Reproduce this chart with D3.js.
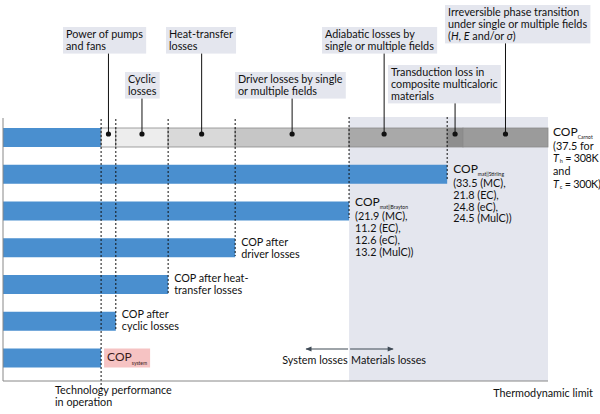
<!DOCTYPE html>
<html>
<head>
<meta charset="utf-8">
<script src="https://cdn.jsdelivr.net/npm/d3@7"></script>
<style>
  body { margin: 0; background: #fff; }
  text { font-family: Lato, "Open Sans", sans-serif; font-size: 10.8px; fill: #111; }
</style>
</head>
<body>
<div class="chart"></div>
<script>
// stages, top (Carnot) to bottom (system); length as % of COP Carnot (schematic)
var stageNames = ["carnot", "stirling", "brayton", "driver", "heat", "cyclic", "system"];
var stageValues = [100, 81.5, 63.5, 42.6, 30.3, 20.7, 18.0];

// loss segments on the top bar (from, to in % of Carnot)
var lossNames = ["pumps", "cyclic", "heat", "driver", "adiabatic", "transduction", "irreversible"];
var lossFrom = [18.0, 20.7, 30.3, 42.6, 63.5, 81.5, 84.4];
var lossTo = [20.7, 30.3, 42.6, 63.5, 81.5, 84.4, 100];
var lossFill = ["#f7f7f7", "#ededed", "#d9d9d9", "#c6c6c6", "#a9a9a9", "#8e8e8e", "#9b9b9b"];

var lossLabels = [
  ["Power of pumps", "and fans"],
  ["Cyclic", "losses"],
  ["Heat-transfer", "losses"],
  ["Driver losses by single", "or multiple fields"],
  ["Adiabatic losses by", "single or multiple fields"],
  ["Transduction loss in", "composite multicaloric", "materials"],
  ["Irreversible phase transition", "under single or multiple fields",
   "(<tspan font-style='italic'>H</tspan>, <tspan font-style='italic'>E</tspan> and/or <tspan font-style='italic'>σ</tspan>)"]
];

var width = 600, height = 414;

var svg = d3.select(".chart").append("svg")
    .attr("width", width)
    .attr("height", height);

var xScale = d3.scaleLinear().domain([0, 100]).range([3, 548]);
var yScale = d3.scalePoint().domain(stageNames).range([137.5, 358]);
var barH = 19;
var axisY = 381;

// materials region shade
svg.append("rect")
    .attr("x", xScale(stageValues[2]))
    .attr("y", 117)
    .attr("width", xScale(100) - xScale(stageValues[2]))
    .attr("height", axisY - 117)
    .attr("fill", "#e4e6ee");

// blue bars
svg.selectAll(".bar")
    .data(stageNames)
    .enter().append("rect")
    .attr("class", "bar")
    .attr("x", xScale(0))
    .attr("y", function(d) { return yScale(d) - barH / 2; })
    .attr("width", function(d, i) { return i == 0 ? xScale(stageValues[6]) - xScale(0) : xScale(stageValues[i]) - xScale(0); })
    .attr("height", barH)
    .attr("fill", "#4a8fcf");

// loss segments on top bar
svg.selectAll(".seg")
    .data(lossNames)
    .enter().append("rect")
    .attr("class", "seg")
    .attr("x", function(d, i) { return xScale(lossFrom[i]); })
    .attr("y", yScale("carnot") - barH / 2)
    .attr("width", function(d, i) { return xScale(lossTo[i]) - xScale(lossFrom[i]); })
    .attr("height", barH)
    .attr("fill", function(d, i) { return lossFill[i]; })
    .attr("stroke", "#8a8a8a")
    .attr("stroke-width", 0.8);

// dashed stage markers
var dashTop = [null, 117, 117, 119, 119, 119, 119];
var dashBottom = [null, 181, 218, 256, 293, 330, 389];
stageNames.forEach(function(d, i) {
    if (i == 0) return;
    svg.append("line")
        .attr("x1", xScale(stageValues[i])).attr("x2", xScale(stageValues[i]))
        .attr("y1", dashTop[i]).attr("y2", dashBottom[i])
        .attr("stroke", "#111")
        .attr("stroke-width", 1)
        .attr("stroke-dasharray", "2,2");
});

// axes lines
svg.append("line").attr("x1", 3).attr("x2", 3).attr("y1", 118).attr("y2", axisY)
    .attr("stroke", "#888").attr("stroke-width", 1);
svg.append("line").attr("x1", 3).attr("x2", xScale(100)).attr("y1", axisY).attr("y2", axisY)
    .attr("stroke", "#888").attr("stroke-width", 1);

// callouts: box left / top, dot offset
var boxPos = [[63, 27], [125, 72], [166, 27], [235, 72], [322, 27], [388, 65], [445, 5]];
var dotShift = [0, 0, 0, 0, -14, 0, 0];
var dotY = 134;

lossNames.forEach(function(d, i) {
    var g = svg.append("g");
    var bx = boxPos[i][0], by = boxPos[i][1];
    var rect = g.append("rect").attr("fill", "#e4e6ee");
    var t = g.append("text");
    lossLabels[i].forEach(function(line, j) {
        t.append("tspan")
            .attr("x", bx + 3)
            .attr("y", by + 11 + j * 11.8)
            .html(line);
    });
    var bb = t.node().getBBox();
    var bh = lossLabels[i].length * 11.8 + 3;
    rect.attr("x", bx).attr("y", by).attr("width", bb.width + 6).attr("height", bh);
    var cx = (xScale(lossFrom[i]) + xScale(lossTo[i])) / 2 + dotShift[i];
    g.append("line")
        .attr("x1", cx).attr("x2", cx)
        .attr("y1", by + bh).attr("y2", dotY)
        .attr("stroke", "#111").attr("stroke-width", 1);
    g.append("circle").attr("cx", cx).attr("cy", dotY).attr("r", 2.6).attr("fill", "#111");
});

// bar end labels
function addLabel(x, y, lines, offs) {
    var t = svg.append("text");
    lines.forEach(function(line, j) {
        var ts = t.append("tspan").attr("x", x).attr("y", y + offs[j]);
        if (typeof line == "string") { ts.html(line); }
        else {
            ts.append("tspan").style("font-size", "12px").text(line[0]);
            ts.append("tspan").attr("dy", 3).style("font-size", "5px").text(line[1]);
        }
    });
    return t;
}

var subT = function(s, rest) {
    return "<tspan font-style='italic'>T</tspan><tspan font-size='5.5px' dx='0.8' dy='1'>" + s + "</tspan><tspan dy='-1' letter-spacing='-0.3'> = " + rest + "</tspan>";
};
var endLabels = {
    carnot: [["COP", "Carnot"], "(37.5 for", subT("h", "308K"), "and", subT("c", "300K)")],
    stirling: [["COP", "mat||Stirling"], "(33.5 (MC),", "21.8 (EC),", "24.8 (eC),", "24.5 (MulC))"],
    brayton: [["COP", "mat||Brayton"], "(21.9 (MC),", "11.2 (EC),", "12.6 (eC),", "13.2 (MulC))"],
    driver: ["COP after", "driver losses"],
    heat: ["COP after heat-", "transfer losses"],
    cyclic: ["COP after", "cyclic losses"]
};
var labelDy = {carnot: -5, stirling: -5, brayton: -9, driver: -5, heat: -6, cyclic: -7};
var matOffs = [0, 14.3, 26.1, 37.9, 49.7];
var twoOffs = [0, 12];
var labelOffs = {carnot: [0, 13.5, 25.5, 39, 51.5], stirling: matOffs, brayton: [0, 14.8, 26.6, 38.4, 50.2],
    driver: twoOffs, heat: twoOffs, cyclic: twoOffs};

stageNames.forEach(function(d, i) {
    if (!endLabels[d]) return;
    var x = xScale(stageValues[i]) + (i == 0 ? 5 : 6);
    var y = yScale(d) + labelDy[d] + 3.5;
    addLabel(x, y, endLabels[d], labelOffs[d]);
});

// COP system
var sysX = xScale(stageValues[6]) + 3;
svg.append("rect")
    .attr("x", sysX).attr("y", yScale("system") - barH / 2)
    .attr("width", 46).attr("height", barH)
    .attr("fill", "#f6c3c3");
var st = svg.append("text").attr("x", sysX + 3).attr("y", yScale("system") + 2.5).style("fill", "#3a1a1a");
st.append("tspan").style("font-size", "12px").text("COP");
st.append("tspan").attr("dy", 4).style("font-size", "5px").text("system");

// system / materials arrows
svg.append("defs").append("marker")
    .attr("id", "arr").attr("viewBox", "0 0 10 10")
    .attr("refX", 9).attr("refY", 5)
    .attr("markerWidth", 6).attr("markerHeight", 5)
    .attr("orient", "auto-start-reverse")
    .append("path").attr("d", "M0,1 L10,5 L0,9 Z").attr("fill", "#3f4a55");
var splitX = xScale(stageValues[2]);
svg.append("line").attr("x1", splitX - 1).attr("x2", splitX - 43).attr("y1", 349).attr("y2", 349)
    .attr("stroke", "#3f4a55").attr("stroke-width", 1.2).attr("marker-end", "url(#arr)");
svg.append("line").attr("x1", splitX + 1).attr("x2", splitX + 44).attr("y1", 349).attr("y2", 349)
    .attr("stroke", "#3f4a55").attr("stroke-width", 1.2).attr("marker-end", "url(#arr)");
svg.append("text").attr("x", splitX - 1.5).attr("y", 364).attr("text-anchor", "end").text("System losses");
svg.append("text").attr("x", splitX + 2).attr("y", 364).text("Materials losses");

// bottom labels
var bl = svg.append("text");
bl.append("tspan").attr("x", 55).attr("y", 394).text("Technology performance");
bl.append("tspan").attr("x", 55).attr("y", 406).text("in operation");
svg.append("text").attr("x", 593).attr("y", 397).attr("text-anchor", "end").text("Thermodynamic limit");
</script>
</body>
</html>
